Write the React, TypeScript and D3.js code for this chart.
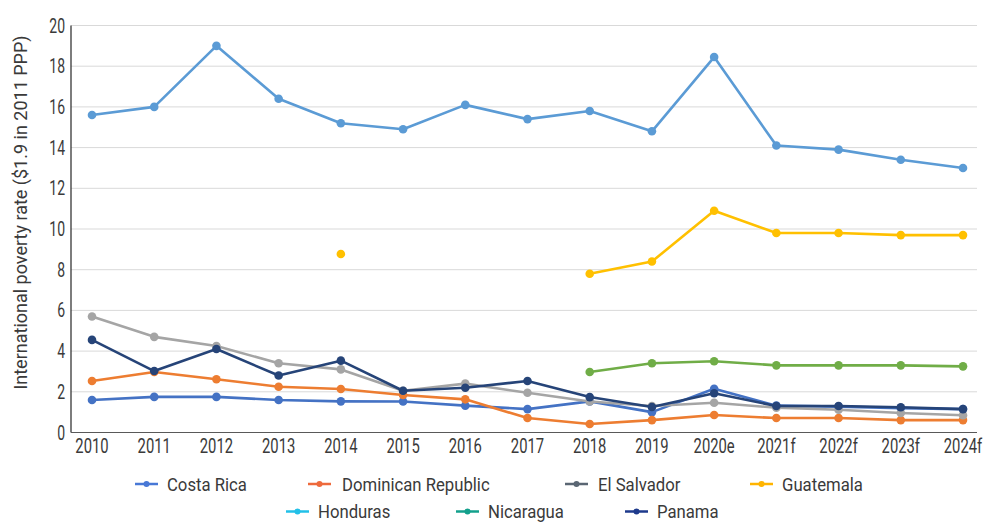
import React from "react";
import * as d3 from "d3";

const categories = ["2010","2011","2012","2013","2014","2015","2016","2017","2018","2019","2020e","2021f","2022f","2023f","2024f"];
const yTicks = [0, 2, 4, 6, 8, 10, 12, 14, 16, 18, 20];

const costaRica = [1.6, 1.75, 1.75, 1.6, 1.53, 1.52, 1.32, 1.15, 1.53, 1.0, 2.15, 1.32, 1.27, 1.2, 1.15];
const dominicanRepublic = [2.53, 2.97, 2.62, 2.25, 2.14, 1.84, 1.63, 0.71, 0.42, 0.61, 0.86, 0.71, 0.71, 0.61, 0.61];
const elSalvador = [5.7, 4.7, 4.25, 3.4, 3.1, 2.05, 2.4, 1.95, 1.52, 1.3, 1.46, 1.22, 1.12, 0.96, 0.85];
const guatemala = [null, null, null, null, 8.77, null, null, null, 7.8, 8.4, 10.9, 9.8, 9.8, 9.7, 9.7];
const honduras = [15.6, 16.0, 19.0, 16.4, 15.2, 14.9, 16.1, 15.4, 15.8, 14.8, 18.45, 14.1, 13.9, 13.4, 13.0];
const nicaragua = [null, null, null, null, null, null, null, null, 2.97, 3.4, 3.5, 3.3, 3.3, 3.3, 3.25];
const panama = [4.55, 3.02, 4.1, 2.8, 3.53, 2.05, 2.2, 2.53, 1.74, 1.25, 1.93, 1.3, 1.3, 1.24, 1.15];

const seriesNames = ["Costa Rica", "Dominican Republic", "El Salvador", "Guatemala", "Honduras", "Nicaragua", "Panama"];
const seriesValues = [costaRica, dominicanRepublic, elSalvador, guatemala, honduras, nicaragua, panama];
const lineColors = ["#4472C4", "#ED7D31", "#A5A5A5", "#FFC000", "#5B9BD5", "#70AD47", "#264478"];
const legendColors = ["#4878D6", "#EE6A3C", "#5A6673", "#FFB400", "#22C0E8", "#13A08C", "#1E3A8C"];

const FONT = "Roboto, 'Liberation Sans', sans-serif";

function SText(props: { x: number; y: number; sx: number; size: number; anchor?: string; children: React.ReactNode }) {
  return (
    <text
      transform={`translate(${props.x},${props.y}) scale(${props.sx},1)`}
      textAnchor={props.anchor || "start"}
      fontSize={props.size}
      fill="#3a3a3a"
    >
      {props.children}
    </text>
  );
}

export default function App() {
  const W = 987, H = 523;
  const left = 71, right = 977, top = 25.5, bottom = 432.5;
  const x = d3.scalePoint<string>().domain(categories).range([92, 963]);
  const y = d3.scaleLinear().domain([0, 20]).range([bottom, top]);
  const line = d3.line<number | null>()
    .defined((d) => d != null)
    .x((_, i) => x(categories[i]) as number)
    .y((d) => y(d as number));

  const legendItems = [
    { i: 0, mx: 135, tx: 167, y: 484 },
    { i: 1, mx: 308, tx: 342, y: 484 },
    { i: 2, mx: 565, tx: 598, y: 484 },
    { i: 3, mx: 750, tx: 782, y: 484 },
    { i: 4, mx: 286, tx: 318, y: 511.5 },
    { i: 5, mx: 456, tx: 488, y: 511.5 },
    { i: 6, mx: 625, tx: 657, y: 511.5 },
  ];

  return (
    <svg width={W} height={H} style={{ position: "absolute", left: 0, top: 0, background: "#fff" }} fontFamily={FONT}>
      {yTicks.map((t) => (
        <line key={"g" + t} x1={left} x2={right} y1={y(t)} y2={y(t)} stroke="#d9d9d9" strokeWidth={1} />
      ))}
      <line x1={left} x2={left} y1={top} y2={bottom} stroke="#262626" strokeWidth={1.2} />
      <line x1={left} x2={right} y1={bottom} y2={bottom} stroke="#595959" strokeWidth={1.2} />
      {yTicks.map((t) => (
        <SText key={"yt" + t} x={65} y={y(t) + 7} sx={0.7} size={20} anchor="end">{t}</SText>
      ))}
      {categories.map((c) => (
        <SText key={"xt" + c} x={x(c) as number} y={452.5} sx={0.76} size={19.5} anchor="middle">{c}</SText>
      ))}
      <text transform={`translate(27,212.5) rotate(-90)`} textAnchor="middle" fontSize={18} fill="#3a3a3a">
        International poverty rate ($1.9 in 2011 PPP)
      </text>
      {seriesValues.map((vals, si) => (
        <g key={"s" + si}>
          <path d={line(vals) || ""} fill="none" stroke={lineColors[si]} strokeWidth={2.6} strokeLinejoin="round" />
          {vals.map((v, i) => v == null ? null : (
            <circle key={i} cx={x(categories[i])} cy={y(v)} r={4.3} fill={lineColors[si]} />
          ))}
        </g>
      ))}
      {legendItems.map((l) => (
        <g key={"lg" + l.i}>
          <line x1={l.mx} x2={l.mx + 23} y1={l.y} y2={l.y} stroke={legendColors[l.i]} strokeWidth={2.5} />
          <circle cx={l.mx + 11.5} cy={l.y} r={3} fill={legendColors[l.i]} />
          <SText x={l.tx} y={l.y + 6.5} sx={0.88} size={19}>{seriesNames[l.i]}</SText>
        </g>
      ))}
    </svg>
  );
}
